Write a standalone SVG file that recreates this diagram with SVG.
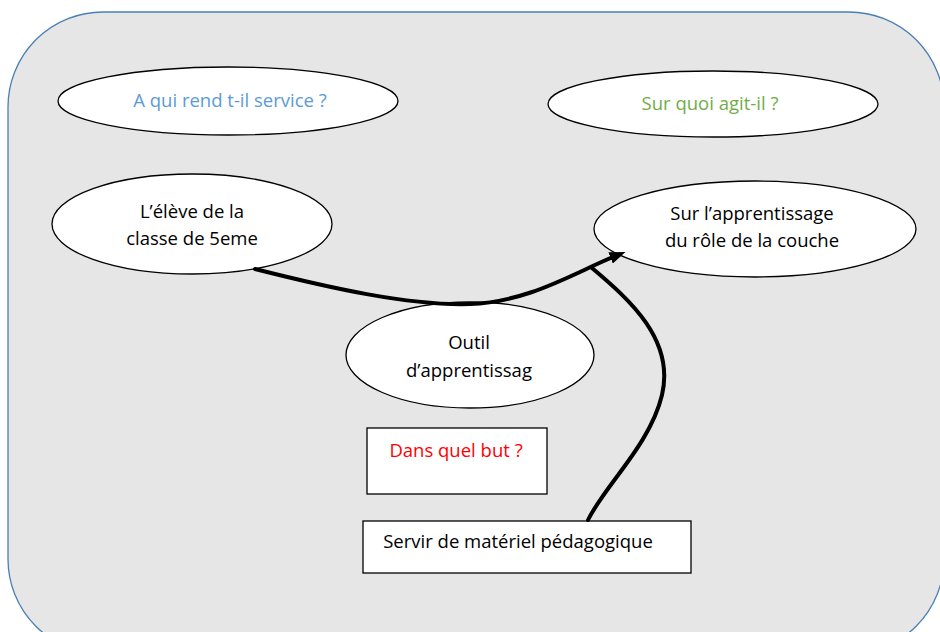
<svg xmlns="http://www.w3.org/2000/svg" width="940" height="632" viewBox="0 0 940 632">
<style>
.ell{fill:#fff;stroke:#000;stroke-width:1.3}
.box{fill:#fff;stroke:#000;stroke-width:1.3}
.t{font-family:"Open Sans","Liberation Sans",sans-serif;font-size:18.5px;fill:#000;text-anchor:middle}
.conn{fill:none;stroke:#000;stroke-width:4;stroke-linecap:round}
</style>
<defs>
<marker id="ah" markerWidth="4" markerHeight="3" refX="2" refY="1.5" orient="auto" markerUnits="strokeWidth">
<path d="M0,0 L4,1.5 L0,3 z" fill="#000"/>
</marker>
</defs>
<rect x="8" y="12" width="936" height="642" rx="95" ry="95" fill="#e6e6e6" stroke="#4a7fb5" stroke-width="1.3"/>
<g id="n1"><ellipse class="ell" cx="228" cy="101" rx="170" ry="34"/><text class="t" x="230" y="107" style="fill:#5b9bd5">A qui rend t-il service ?</text></g>
<g id="n2"><ellipse class="ell" cx="713" cy="104" rx="165" ry="33"/><text class="t" x="710" y="110" style="fill:#70ad47">Sur quoi agit-il ?</text></g>
<g id="n3"><ellipse class="ell" cx="192" cy="224" rx="140" ry="50"/><text class="t" x="192" y="218">L’élève de la</text><text class="t" x="192" y="245">classe de 5eme</text></g>
<g id="n4"><ellipse class="ell" cx="755" cy="229" rx="161" ry="48"/><text class="t" x="752" y="220">Sur l’apprentissage</text><text class="t" x="752" y="247">du rôle de la couche</text></g>
<g id="n5"><ellipse class="ell" cx="470" cy="355" rx="124" ry="53"/><text class="t" x="469" y="349">Outil</text><text class="t" x="469" y="377">d’apprentissag</text></g>
<g id="n6"><rect class="box" x="367" y="428" width="180" height="66"/><text class="t" x="456" y="457" style="fill:#ff0000">Dans quel but ?</text></g>
<g id="n7"><rect class="box" x="363" y="521" width="328" height="52"/><text class="t" x="518" y="548">Servir de matériel pédagogique</text></g>
<g id="connectors">
<path class="conn" d="M255,269 C330,288 410,306 470,304 C530,302 575,272 618,255" marker-end="url(#ah)"/>
<path class="conn" d="M592,268 C630,300 675,340 662,395 C650,445 605,485 588,520"/>
</g>
</svg>
